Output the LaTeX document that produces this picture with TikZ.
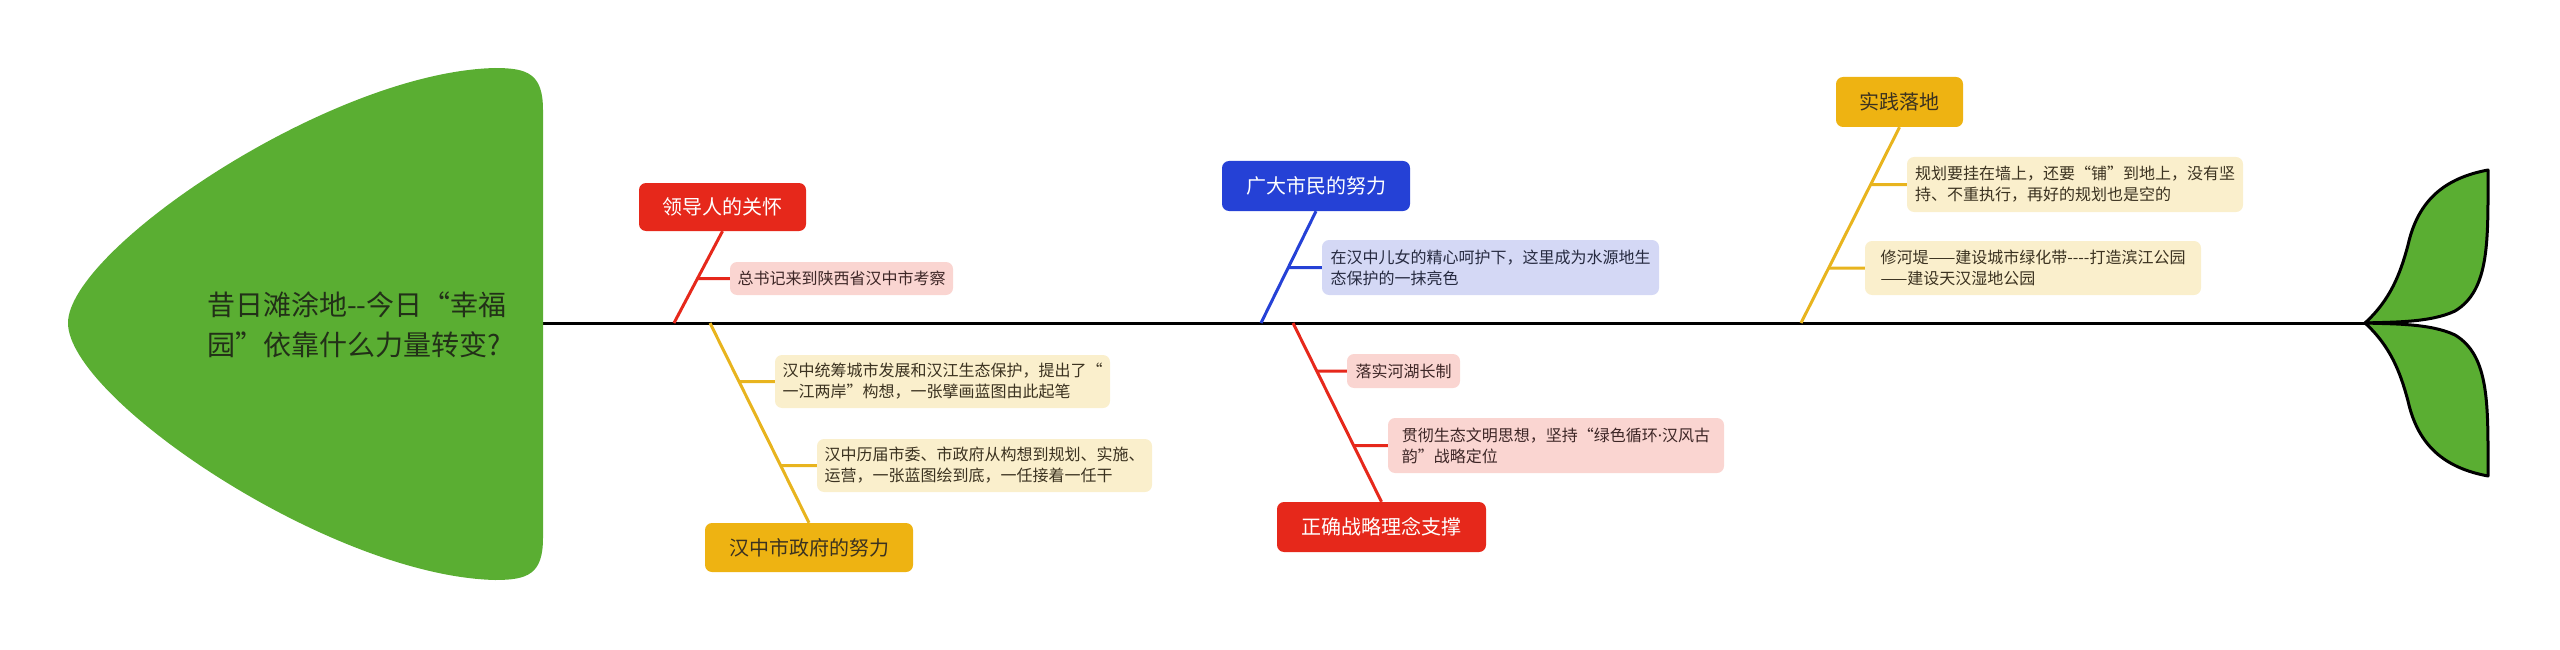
\documentclass[tikz,border=0pt]{standalone}
\usepackage{fontspec}
\setmainfont{Noto Sans CJK SC}[Ligatures=TeXOff]
\newfontfamily\latinfont{Noto Sans}
\definecolor{headgreen}{HTML}{5AAE32}
\definecolor{redmain}{HTML}{E6281B}
\definecolor{redsub}{HTML}{FAD5D1}
\definecolor{redtext}{HTML}{3D2626}
\definecolor{bluemain}{HTML}{2541D6}
\definecolor{bluesub}{HTML}{D4D8F5}
\definecolor{bluetext}{HTML}{262A40}
\definecolor{goldmain}{HTML}{EEB312}
\definecolor{goldline}{HTML}{E8B41E}
\definecolor{goldsub}{HTML}{FAEFCC}
\definecolor{goldtext}{HTML}{3B3220}
\definecolor{headtext}{HTML}{223018}
\begin{document}
\begin{tikzpicture}[x=1pt,y=-1pt,
  mainbox/.style={rounded corners=7pt, inner sep=0pt, font=\fontsize{20}{24}\selectfont},
  subbox/.style={rounded corners=7pt, inner sep=0pt, align=left, font=\fontsize{16}{21}\selectfont},
  redbox/.style={mainbox, fill=redmain, text=white},
  bluebox/.style={mainbox, fill=bluemain, text=white},
  goldbox/.style={mainbox, fill=goldmain, text=goldtext},
  redsubbox/.style={subbox, fill=redsub, text=redtext},
  bluesubbox/.style={subbox, fill=bluesub, text=bluetext},
  goldsubbox/.style={subbox, fill=goldsub, text=goldtext},
  redline/.style={draw=redmain, line width=3pt},
  blueline/.style={draw=bluemain, line width=3pt},
  goldline/.style={draw=goldline, line width=3pt},
  leaf/.style={fill=headgreen, draw=black, line width=3pt, line join=round}
]
\useasboundingbox (0,0) rectangle (2560,650);

% spine
\coordinate (spinestart) at (540,323);
\coordinate (tail) at (2365,323);
\draw[line width=3pt, black] (spinestart) -- (tail);

% head
\fill[headgreen] (543,110) .. controls (543,74) and (528,68) .. (495,68)
  .. controls (330,72) and (68,250) .. (68,323)
  .. controls (68,398) and (330,576) .. (495,580)
  .. controls (528,580) and (543,574) .. (543,538) -- cycle;
\node[anchor=west, align=left, text=headtext, font=\fontsize{28}{40}\selectfont, inner sep=0pt] (head) at (207,325)
  {昔日滩涂地--今日“幸福\\园”依靠什么力量转变?};

% tail leaves
\draw[leaf] (tail) .. controls (2390,300) and (2400,275) .. (2408,245)
  .. controls (2418,200) and (2445,178) .. (2488,170)
  .. controls (2488,240) and (2490,290) .. (2455,311)
  .. controls (2430,323) and (2390,322) .. (tail) -- cycle;
\draw[leaf] (tail) .. controls (2390,346) and (2400,371) .. (2408,401)
  .. controls (2418,446) and (2445,468) .. (2488,476)
  .. controls (2488,406) and (2490,356) .. (2455,335)
  .. controls (2430,323) and (2390,324) .. (tail) -- cycle;

% branch 1: red, top
\node[redbox, minimum width=167pt, minimum height=48pt] (b1) at (722.5,207) {领导人的关怀};
\coordinate (s1) at (674,323);
\node[redsubbox, minimum width=223pt, minimum height=33pt] (a1) at (841.5,278.5) {总书记来到陕西省汉中市考察};
\draw[redline] (s1) -- (b1.south);
\draw[redline] (a1.west) -- (intersection of s1--b1.south and a1.west--a1.east);

% branch 2: gold, bottom
\node[goldbox, minimum width=208pt, minimum height=49pt] (b2) at (809,547.5) {汉中市政府的努力};
\coordinate (s2) at (710,323);
\node[goldsubbox, minimum width=335pt, minimum height=53pt] (g1) at (942.5,381.5)
  {汉中统筹城市发展和汉江生态保护，提出了“\\一江两岸”构想，一张擘画蓝图由此起笔};
\node[goldsubbox, minimum width=335pt, minimum height=53pt] (g2) at (984.5,465.5)
  {汉中历届市委、市政府从构想到规划、实施、\\运营，一张蓝图绘到底，一任接着一任干};
\draw[goldline] (s2) -- (b2.north);
\draw[goldline] (g1.west) -- (intersection of s2--b2.north and g1.west--g1.east);
\draw[goldline] (g2.west) -- (intersection of s2--b2.north and g2.west--g2.east);

% branch 3: blue, top
\node[bluebox, minimum width=188pt, minimum height=50pt] (b3) at (1316,186) {广大市民的努力};
\coordinate (s3) at (1261,323);
\node[bluesubbox, minimum width=337pt, minimum height=55pt] (c1) at (1490.5,267.5)
  {在汉中儿女的精心呵护下，这里成为水源地生\\态保护的一抹亮色};
\draw[blueline] (s3) -- (b3.south);
\draw[blueline] (c1.west) -- (intersection of s3--b3.south and c1.west--c1.east);

% branch 4: red, bottom
\node[redbox, minimum width=209pt, minimum height=50pt] (b4) at (1381.5,527) {正确战略理念支撑};
\coordinate (s4) at (1293,323);
\node[redsubbox, minimum width=113pt, minimum height=34pt] (d1) at (1403.5,371) {落实河湖长制};
\node[redsubbox, minimum width=336pt, minimum height=55pt] (d2) at (1556,445.5)
  {贯彻生态文明思想，坚持“绿色循环{\latinfont ·}汉风古\\韵”战略定位};
\draw[redline] (s4) -- (b4.north);
\draw[redline] (d1.west) -- (intersection of s4--b4.north and d1.west--d1.east);
\draw[redline] (d2.west) -- (intersection of s4--b4.north and d2.west--d2.east);

% branch 5: gold, top
\node[goldbox, minimum width=127pt, minimum height=50pt] (b5) at (1899.5,102) {实践落地};
\coordinate (s5) at (1801,323);
\node[goldsubbox, minimum width=336pt, minimum height=55pt] (e1) at (2075,184.5)
  {规划要挂在墙上，还要“铺”到地上，没有坚\\持、不重执行，再好的规划也是空的};
\node[goldsubbox, minimum width=336pt, minimum height=54pt] (e2) at (2033,268)
  {修河堤——建设城市绿化带----打造滨江公园\\——建设天汉湿地公园};
\draw[goldline] (s5) -- (b5.south);
\draw[goldline] (e1.west) -- (intersection of s5--b5.south and e1.west--e1.east);
\draw[goldline] (e2.west) -- (intersection of s5--b5.south and e2.west--e2.east);
\end{tikzpicture}
\end{document}
